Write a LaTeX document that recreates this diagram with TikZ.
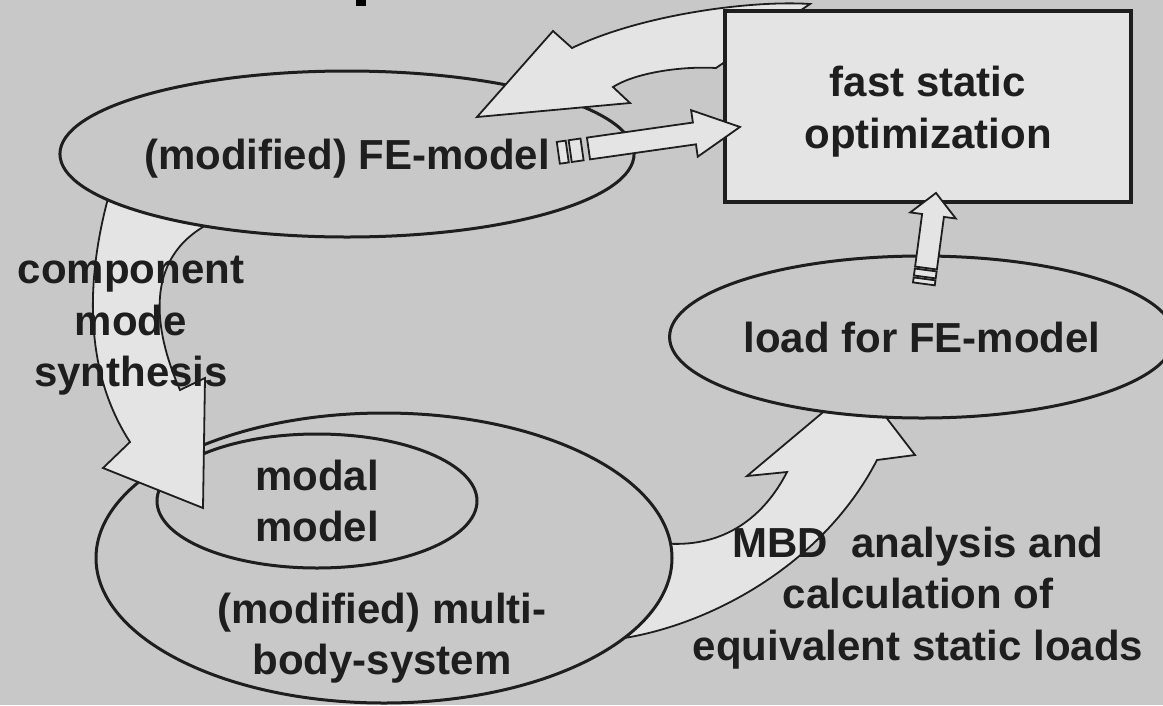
\documentclass[tikz,border=0pt]{standalone}
\usepackage{fontspec}
\setmainfont{Liberation Sans}
\usetikzlibrary{shapes, positioning}
\definecolor{bggray}{HTML}{C8C8C8}
\definecolor{lightfill}{HTML}{E4E4E4}
\definecolor{ink}{HTML}{1E1E1E}

\begin{document}
\begin{tikzpicture}[x=1pt, y=-1pt,
  every node/.style={font=\fontsize{42}{51.5}\selectfont\bfseries, text=ink, align=center},
  blob/.style={ellipse, draw=ink, line width=3pt, fill=bggray, inner sep=0pt},
  blockarrow/.style={draw=ink, line width=1.8pt, fill=lightfill, line join=miter}]
\fill[bggray] (0,0) rectangle (1163,705);
\useasboundingbox (0,0) rectangle (1163,705);
\fill[black] (356,0) rectangle (366,6);

% MBD arrow, tail hidden under the multibody ellipse
\draw[blockarrow] (610,640) .. controls (700,630) and (820,570) .. (877,460) -- (915,455) -- (859,382) -- (747,476) -- (787,472) .. controls (765,515) and (725,550) .. (660,543) -- cycle;

\node (mbs)[blob, minimum width=576pt, minimum height=290pt] at (384,558) {};
\node (modal)[blob, minimum width=320pt, minimum height=134pt] at (317,501) {modal\\model};
\node (mbstext) at (382,638) {(modified) multi-\\body-system};

% component mode synthesis arrow
\draw[blockarrow] (120,160) .. controls (95,230) and (70,350) .. (130,442) -- (103,468) -- (203,508) -- (205,378) -- (180,390) .. controls (158,340) and (140,265) .. (203,227) -- (208,219) -- cycle;
\node (cms) at (131,326) {component\\mode\\synthesis};

\node (fe)[blob, minimum width=470pt, minimum height=166pt, text depth=0pt] at (347,154) {(modified) FE-model};
\node (load)[blob, minimum width=470pt, minimum height=162pt, text depth=0pt] at (922,337) {load for FE-model};

% back arrow from the optimization box
\draw[blockarrow] (810,4) .. controls (750,0) and (640,15) .. (572,48) -- (553,31) -- (477,117) -- (630,103) -- (613,87) .. controls (635,73) and (680,66) .. (716,68) -- cycle;

\node (opt)[draw=ink, line width=3.5pt, fill=lightfill, minimum width=406pt, minimum height=191pt] at (928,106.5) {};
\node (opttext) at (928,111.5) {fast static\\optimization};

% striped arrow FE-model -> optimization
\begin{scope}[shift={(588.5,148.5)}, rotate=8.1]
\draw[blockarrow] (-30.5,-11) -- (-21.5,-11) -- (-21.5,11) -- (-30.5,11) -- cycle;
\draw[blockarrow] (-18.5,-11) -- (-6.5,-11) -- (-6.5,11) -- (-18.5,11) -- cycle;
\draw[blockarrow] (0,-11) -- (107,-11) -- (107,-23.5) -- (153,0) -- (107,23.5) -- (107,11) -- (0,11) -- cycle;
\end{scope}

% striped arrow load -> optimization
\begin{scope}[shift={(926,268)}, rotate=82.4]
\draw[blockarrow] (-16,-11) -- (-11,-11) -- (-11,11) -- (-16,11) -- cycle;
\draw[blockarrow] (-9,-11) -- (-2,-11) -- (-2,11) -- (-9,11) -- cycle;
\draw[blockarrow] (0,-11) -- (53,-11) -- (53,-23) -- (75.7,0) -- (53,23) -- (53,11) -- (0,11) -- cycle;
\end{scope}

\node (mbd) at (918,598) {MBD\ \ analysis and\\calculation of\\equivalent static loads};
\end{tikzpicture}
\end{document}
